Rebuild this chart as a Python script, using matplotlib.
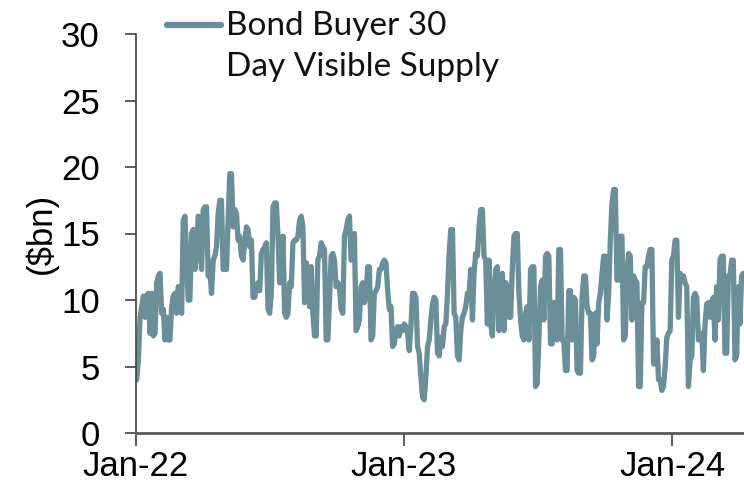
import matplotlib
matplotlib.use("Agg")
import matplotlib.pyplot as plt
import matplotlib.dates as mdates
from matplotlib.lines import Line2D
import pandas as pd
import numpy as np

# Bond Buyer 30-day visible supply ($bn) (Jan-2022 .. early Apr-2024)
supply_2022a = [4.0, 5.5, 8.7, 9.5, 10.3, 8.7, 10.3, 10.5, 7.5, 10.5, 7.3, 7.5, 11.3, 11.8, 12.0,
                9.0, 9.3, 7.0, 8.7, 7.0, 7.0, 9.5, 10.3, 10.5, 9.0, 11.0, 10.3, 9.0, 16.0, 16.3,
                13.0, 10.0, 10.0, 15.0, 15.3, 12.3, 13.3, 16.3, 15.8, 12.3, 16.8, 17.0, 17.0, 11.8,
                12.3, 10.5, 13.0, 13.3, 14.0, 16.5, 17.5, 17.5, 12.3, 12.3, 12.3, 15.8, 19.5, 19.5,
                15.5]
supply_2022b = [16.8, 16.5, 14.5, 14.8, 13.3, 13.0, 14.3, 15.5, 15.3, 14.0, 14.5, 10.2, 10.2, 11.0,
                11.3, 10.7, 13.5, 13.8, 14.0, 14.3, 9.3, 9.0, 10.5, 17.0, 17.3, 17.3, 14.8, 11.3,
                11.5, 14.8, 9.0, 8.7, 9.0, 11.3, 11.0, 14.3, 14.5, 14.5, 14.8, 16.0, 16.3, 15.5,
                9.8, 12.8, 12.3, 9.5, 12.5, 9.0, 7.3, 7.3, 13.0, 13.3, 14.3, 14.0, 13.8, 7.0, 7.0,
                10.0, 13.3, 13.5]
supply_2022c = [13.0, 11.0, 11.3, 11.0, 9.3, 9.0, 14.8, 15.3, 16.0, 16.3, 13.0, 13.0, 15.0, 7.7,
                8.0, 8.5, 11.0, 11.3, 9.8, 10.5, 12.5, 12.5, 7.0, 7.3, 10.5, 10.7, 11.0, 12.3, 12.3,
                12.8, 13.0, 12.8, 10.7, 9.3, 9.5, 6.5, 6.7, 7.7, 8.0, 7.3, 8.0, 7.7, 8.2, 8.0, 7.5,
                6.2, 8.0, 10.5, 10.5, 10.2, 6.5, 6.0, 4.2, 2.7, 2.5, 4.2, 6.5, 7.0, 8.5, 9.7]
supply_2023a = [10.2, 10.0, 6.0, 5.8, 7.2, 6.5, 8.0, 8.2, 10.5, 13.5, 15.3, 15.3, 9.0, 8.7, 5.8,
                5.5, 7.7, 8.7, 9.0, 9.5, 10.5, 10.5, 12.3, 8.5, 12.0, 13.5, 13.3, 15.5, 16.8, 16.8,
                13.3, 13.0, 8.2, 13.0, 8.2, 7.3, 10.5, 12.3, 12.5, 7.7, 11.8, 12.0, 7.7, 11.3, 11.0,
                8.7, 8.7, 12.3, 14.8, 15.0, 15.0, 10.5, 8.5, 7.3, 7.0, 9.0, 9.5, 7.0, 12.3, 12.5]
supply_2023b = [12.5, 3.5, 3.7, 7.0, 11.0, 11.5, 8.5, 13.3, 13.5, 13.3, 6.7, 6.7, 9.8, 9.8, 7.0,
                13.8, 13.8, 7.0, 7.0, 4.7, 4.7, 10.7, 10.7, 7.0, 10.2, 10.0, 4.7, 4.5, 4.5, 10.2,
                11.8, 11.8, 9.5, 9.0, 9.0, 5.5, 5.8, 9.0, 6.7, 9.8, 10.5, 12.0, 13.3, 13.3, 8.5,
                10.5, 14.5, 17.3, 18.3, 18.3, 11.5, 11.5, 14.8, 14.8, 7.0, 7.3, 12.0, 13.5, 13.3,
                8.5]
supply_2024 = [11.8, 11.5, 11.3, 3.5, 3.5, 9.8, 9.8, 12.5, 12.5, 13.3, 13.8, 13.8, 5.2, 5.2, 7.0,
               4.0, 4.0, 3.2, 3.5, 5.0, 7.2, 7.5, 7.7, 13.0, 13.3, 14.5, 14.5, 8.7, 12.0, 11.8,
               11.8, 11.3, 11.0, 3.5, 5.5, 5.8, 10.2, 10.5, 10.2, 7.0, 7.3, 7.5, 4.7, 8.2, 9.7,
               9.8, 8.7, 9.8, 10.2, 7.0, 11.0, 8.5, 13.0, 13.3, 13.3, 6.0, 6.0, 11.8, 11.8, 13.0,
               13.0, 5.5, 5.8, 11.0, 8.2, 11.8, 12.0]

values = supply_2022a + supply_2022b + supply_2022c + supply_2023a + supply_2023b + supply_2024
first_date, last_date = "2022-01-02", "2024-04-07"
dates = pd.date_range(first_date, last_date, periods=len(values))

series_label = "Bond Buyer 30\nDay Visible Supply"
y_label = "($bn)"
y_ticks = [0, 5, 10, 15, 20, 25, 30]
x_ticks = ["2022-01-01", "2023-01-01", "2024-01-01"]

line_color = "#6A8F98"
font = ["Liberation Sans", "DejaVu Sans"]
legend_font = ["Lato", "DejaVu Sans"]

W, H = 744, 493
fig = plt.figure(figsize=(W / 100, H / 100), dpi=100)
ax = fig.add_axes([136 / W, 1 - 433 / H, 1 - 136 / W, (433 - 34) / H])

ax.plot(dates, values, color=line_color, lw=3.8, solid_joinstyle="round",
        solid_capstyle="round", label=series_label)

ax.set_ylim(0, 30)
ax.set_xlim(pd.Timestamp("2022-01-01"), pd.Timestamp("2024-04-08"))
ax.set_yticks(y_ticks)
ax.set_xticks(pd.to_datetime(x_ticks))
ax.xaxis.set_major_formatter(mdates.DateFormatter("%b-%y"))

for s in ["top", "right"]:
    ax.spines[s].set_visible(False)
ax.spines["left"].set_color("#404040")
ax.spines["left"].set_linewidth(1.2)
ax.spines["bottom"].set_color("#5a5a5a")
ax.spines["bottom"].set_linewidth(2.0)

ax.tick_params(axis="y", direction="out", length=8, width=1.2, color="#404040", pad=18,
               labelsize=25)
ax.tick_params(axis="x", direction="out", length=9, width=1.2, color="#404040", pad=3,
               labelsize=25)
for lab in ax.get_xticklabels() + ax.get_yticklabels():
    lab.set_fontfamily(font)

ax.set_ylabel(y_label, fontsize=25, family=font)
ax.yaxis.set_label_coords(-0.128, 0.5)

# legend (key aligned with the first line of the label, as in the reference)
fig.add_artist(Line2D([167 / W, 221 / W], [1 - 25 / H, 1 - 25 / H], transform=fig.transFigure,
                      color=line_color, lw=4.5, solid_capstyle="round"))
fig.text(226 / W, 1 - 11 / H, series_label, ha="left", va="top", fontsize=24,
         family=legend_font, linespacing=1.45, color="#111111")

fig.savefig("out.png", dpi=100)
